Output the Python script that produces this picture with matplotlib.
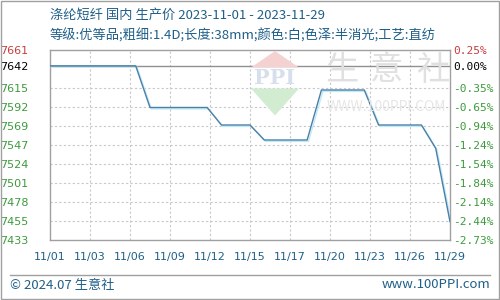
import matplotlib.pyplot as plt
import matplotlib.patheffects as pe
from matplotlib.patches import Polygon, Rectangle
from matplotlib.lines import Line2D

plt.rcParams['font.family'] = ['Noto Sans CJK SC', 'DejaVu Sans']

# 2023-11 每日价格 (元/吨)
days = list(range(1, 30))
prices = [7642, 7642, 7642, 7642, 7642, 7642, 7642,
          7592, 7592, 7592, 7592, 7592,
          7571, 7571, 7571,
          7553, 7553, 7553, 7553,
          7613, 7613, 7613, 7613,
          7571, 7571, 7571, 7571,
          7543, 7455]

xtick_days = [1, 3.8, 6.6, 9.4, 12.2, 15, 17.8, 20.6, 23.4, 26.2, 29]
xtick_labels = ['11/01', '11/03', '11/06', '11/09', '11/12', '11/15',
                '11/17', '11/20', '11/23', '11/26', '11/29']
ytick_vals = [7661, 7642, 7615, 7592.25, 7569.5, 7546.75, 7524,
              7501.25, 7478.5, 7455.75, 7433]
ytick_labels = ['7661', '7642', '7615', '7592', '7569', '7547', '7524',
                '7501', '7478', '7455', '7433']
pct_labels = ['0.25%', '0.00%', '-0.35%', '-0.65%', '-0.94%', '-1.24%',
              '-1.54%', '-1.84%', '-2.14%', '-2.44%', '-2.73%']
base = 7642

title1 = '涤纶短纤 国内 生产价 2023-11-01 - 2023-11-29'
title2 = '等级:优等品;粗细:1.4D;长度:38mm;颜色:白;色泽:半消光;工艺:直纺'

red = '#c83c3c'
green = '#3c9a3c'
blue_txt = '#1f5f88'

fig = plt.figure(figsize=(5, 3), dpi=100)
fig.patch.set_facecolor('white')

# outer border
fig.add_artist(Rectangle((0.002, 0.003), 0.996, 0.994, transform=fig.transFigure,
                         fill=False, edgecolor='#a0a0a0', linewidth=1))

fig.text(0.1, 0.948, title1, fontsize=9.5, color=blue_txt, va='center')
fig.text(0.1, 0.883, title2, fontsize=9.5, color=blue_txt, va='center')

ax = fig.add_axes([0.1, 0.2, 0.8, 0.6333])

# watermark logo
fig.add_artist(Polygon([[0.502, 0.775], [0.55, 0.83], [0.598, 0.775]], closed=True,
                       transform=fig.transFigure, facecolor='#f5d2d2', edgecolor='none'))
fig.add_artist(Polygon([[0.502, 0.705], [0.55, 0.615], [0.598, 0.705]], closed=True,
                       transform=fig.transFigure, facecolor='#d2ecd2', edgecolor='none'))
fig.text(0.55, 0.74, 'PPI', fontsize=15, fontweight='bold', color='#d8dfec',
         ha='center', va='center', family='DejaVu Serif')
for cx, ch in zip([0.683, 0.773, 0.865], '生意社'):
    fig.text(cx, 0.765, ch, fontsize=24, color='#e0e0e0', ha='center', va='center')
fig.text(0.773, 0.643, 'WWW.100PPI.COM', fontsize=10, color='#e6e6e6', ha='center', va='center')

ax.set_facecolor('none')
ax.set_xlim(1, 29)
ax.set_ylim(7433, 7661)

for v in ytick_vals[2:-1]:
    ax.axhline(v, color='#c8c8c8', linestyle=(0, (2, 2)), linewidth=0.8, zorder=1)
for d in xtick_days[1:-1]:
    ax.axvline(d, color='#c8c8c8', linestyle=(0, (2, 2)), linewidth=0.8, zorder=1)
ax.axhline(base, color='#909090', linewidth=1, zorder=2)

ax.plot(days, prices, color='#4a7fa6', linewidth=1, zorder=3,
        path_effects=[pe.SimpleLineShadow(offset=(1, -1), shadow_color='#bfeaf7', alpha=1),
                      pe.Normal()])

ax.set_xticks(xtick_days)
ax.set_xticklabels(xtick_labels, fontsize=8, color=blue_txt, family='DejaVu Sans')
ax.set_yticks(ytick_vals)
ax.set_yticklabels(ytick_labels, fontsize=8, family='DejaVu Sans')
ax.tick_params(axis='both', length=0)
ax.tick_params(axis='x', pad=8.5)
ax.tick_params(axis='y', pad=15.5)
for i, t in enumerate(ax.get_yticklabels()):
    t.set_color(red if i == 0 else ('black' if i == 1 else green))

for s in ax.spines.values():
    s.set_color('#a0a0a0')
    s.set_linewidth(1)

ax2 = ax.twinx()
ax2.set_ylim(7433, 7661)
ax2.set_yticks(ytick_vals)
ax2.set_yticklabels(pct_labels, fontsize=8, family='DejaVu Sans Mono')
ax2.tick_params(axis='y', length=0, pad=2)
for i, t in enumerate(ax2.get_yticklabels()):
    t.set_color(red if i == 0 else ('black' if i == 1 else green))
for s in ax2.spines.values():
    s.set_visible(False)

# footer
fig.add_artist(Line2D([0.02, 0.98], [0.083, 0.083], transform=fig.transFigure,
                      color='#a0a0a0', linewidth=1))
fig.text(0.02, 0.05, '© 2024.07 生意社', fontsize=9.5, color=blue_txt, va='center')
fig.text(0.98, 0.05, 'www.100PPI.com', fontsize=9.5, color=blue_txt, va='center', ha='right')

fig.savefig('out.png', dpi=100)
